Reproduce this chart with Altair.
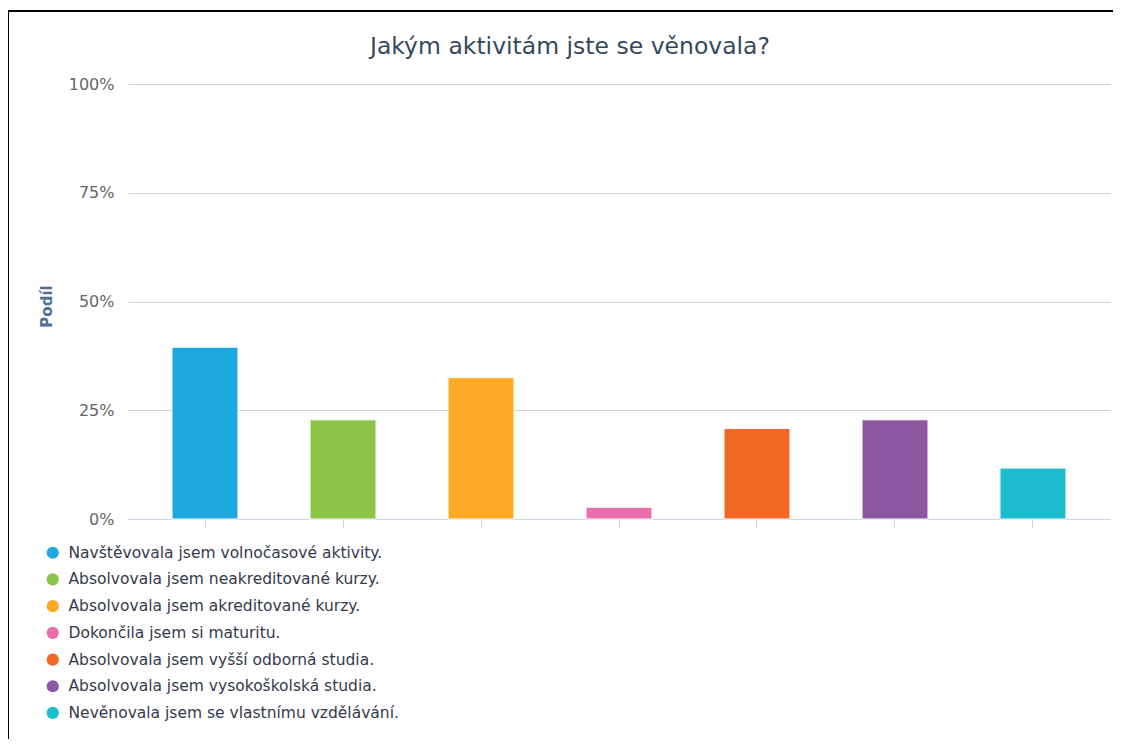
import altair as alt
import pandas as pd

categories = [
    "Navštěvovala jsem volnočasové aktivity.",
    "Absolvovala jsem neakreditované kurzy.",
    "Absolvovala jsem akreditované kurzy.",
    "Dokončila jsem si maturitu.",
    "Absolvovala jsem vyšší odborná studia.",
    "Absolvovala jsem vysokoškolská studia.",
    "Nevěnovala jsem se vlastnímu vzdělávání.",
]
values = [0.395, 0.228, 0.325, 0.027, 0.208, 0.228, 0.117]
colors = ["#1ea8e0", "#8bc548", "#fcaa25", "#e86fab", "#f06824", "#8e57a1", "#1bbdce"]
y_ticks = [0, 0.25, 0.5, 0.75, 1.0]

df = pd.DataFrame({"kategorie": categories, "podil": values})

FONT = "DejaVu Sans"

bars = alt.Chart(df).mark_bar(stroke="white", strokeWidth=1).encode(
    x=alt.X(
        "kategorie:N",
        sort=categories,
        scale=alt.Scale(paddingInner=0.522, paddingOuter=0.319),
        axis=alt.Axis(
            labels=False,
            title=None,
            ticks=True,
            tickSize=9,
            tickColor="#ccd6eb",
            domainColor="#ccd6eb",
            grid=False,
        ),
    ),
    y=alt.Y(
        "podil:Q",
        scale=alt.Scale(domain=[0, 1]),
        axis=alt.Axis(
            values=y_ticks,
            format=".0%",
            title="Podíl",
            titleFont=FONT,
            titleFontSize=15,
            titleFontWeight="bold",
            titleColor="#4d6f96",
            titleX=-82,
            titleY=222,
            titleAngle=270,
            titleAlign="center",
            titleBaseline="middle",
            labelFont=FONT,
            labelFontSize=16,
            labelColor="#666666",
            labelPadding=14,
            ticks=False,
            domain=False,
            grid=True,
            gridColor="#d0d0d0",
            gridWidth=1,
        ),
    ),
    color=alt.Color(
        "kategorie:N",
        sort=categories,
        scale=alt.Scale(domain=categories, range=colors),
        legend=alt.Legend(
            title=None,
            orient="none",
            legendX=-83,
            legendY=461,
            direction="vertical",
            symbolType="circle",
            symbolSize=150,
            symbolStrokeWidth=0,
            labelFont=FONT,
            labelFontSize=15.5,
            labelColor="#333a4d",
            labelLimit=600,
            rowPadding=9.7,
            labelOffset=8,
        ),
    ),
)

border = alt.Chart(df).mark_rect(
    fill=None, stroke="black", strokeWidth=2
).encode(
    x=alt.value(-120), x2=alt.value(1140), y=alt.value(-73), y2=alt.value(800)
)

chart = alt.layer(border, bars).properties(
    width=982,
    height=435,
    padding={"left": 120, "top": 76, "right": 3, "bottom": 220},
    autosize=alt.AutoSizeParams(type="none"),
    title=alt.TitleParams(
        "Jakým aktivitám jste se věnovala?",
        font=FONT,
        fontSize=23.5,
        fontWeight="normal",
        color="#34495e",
        anchor="middle",
        dx=-49,
        dy=72,
        offset=24,
    ),
).configure(background="white").configure_view(stroke="transparent", strokeWidth=0)

chart.save("out.html", embed_options={"renderer": "svg", "actions": False})
